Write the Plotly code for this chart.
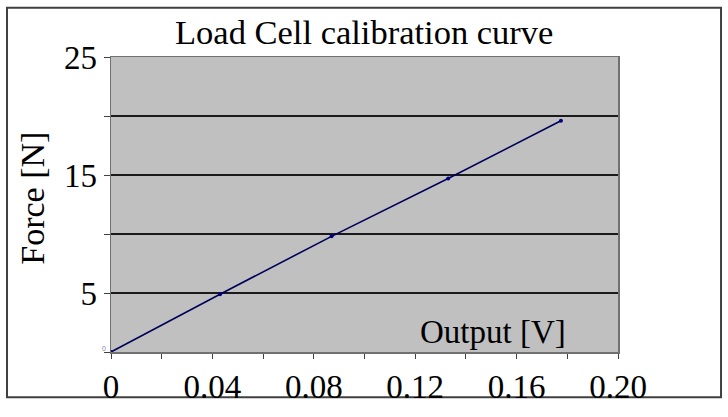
import plotly.graph_objects as go

# Data
output_v = [0.0, 0.043, 0.087, 0.133, 0.1775]
force_n = [0.0, 4.9, 9.8, 14.7, 19.6]

x_tickvals = [0.0, 0.02, 0.04, 0.06, 0.08, 0.10, 0.12, 0.14, 0.16, 0.18, 0.20]
x_ticktext = ["0", "", "0.04", "", "0.08", "", "0.12", "", "0.16", "", "0.20"]
y_tickvals = [0, 5, 10, 15, 20, 25]
y_ticktext = ["", "5", "", "15", "", "25"]

title_text = "Load Cell calibration curve"
x_title = "Output [V]"
y_title = "Force [N]"

FONT = "Liberation Serif, Times New Roman, serif"

fig = go.Figure()
fig.add_trace(go.Scatter(
    x=output_v, y=force_n, mode="lines+markers",
    line=dict(color="#00005a", width=1.6),
    marker=dict(color="#000080", size=4),
    showlegend=False,
))

fig.update_layout(
    width=728, height=417, autosize=False,
    margin=dict(l=111, r=110, t=57, b=54),
    paper_bgcolor="white",
    plot_bgcolor="#C0C0C0",
    font=dict(family=FONT, size=33, color="black"),
    xaxis=dict(
        range=[0, 0.20], tickvals=x_tickvals, ticktext=x_ticktext,
        showgrid=False, zeroline=False,
        ticks="outside", ticklen=5, tickcolor="#404040", tickwidth=1,
        showline=True, linecolor="#707070", linewidth=1.5, mirror=True,
        tickfont=dict(family=FONT, size=33, color="black"),
    ),
    yaxis=dict(
        range=[0, 25], tickvals=y_tickvals, ticktext=y_ticktext,
        showgrid=True, gridcolor="#1a1a1a", gridwidth=1.5,
        zeroline=False,
        ticks="outside", ticklen=6, tickcolor="#404040", tickwidth=1,
        showline=True, linecolor="#707070", linewidth=1.5, mirror=True,
        tickfont=dict(family=FONT, size=33, color="black"),
    ),
    shapes=[dict(
        type="rect", xref="paper", yref="paper",
        x0=-0.2051, x1=1.2032, y0=-0.1536, y1=1.1667,
        line=dict(color="#404040", width=2), fillcolor="rgba(0,0,0,0)",
        layer="below",
    )],
    annotations=[
        dict(text=title_text, xref="paper", yref="paper",
             x=(364 - 111) / 507, y=(363 - 31) / 306,
             showarrow=False, xanchor="center", yanchor="middle",
             font=dict(family=FONT, size=34.5, color="black")),
        dict(text=x_title, x=0.1505, y=1.7, xref="x", yref="y",
             showarrow=False, xanchor="center", yanchor="middle",
             font=dict(family=FONT, size=33, color="black")),
        dict(text=y_title, xref="paper", yref="paper",
             x=(33 - 111) / 507, y=(363 - 204) / 306,
             showarrow=False, textangle=-90, xanchor="center", yanchor="middle",
             font=dict(family=FONT, size=34, color="black")),
        dict(text="0", xref="paper", yref="y",
             x=(104 - 111) / 507, y=0.3,
             showarrow=False, xanchor="center", yanchor="middle",
             font=dict(family="Arial, sans-serif", size=7, color="#8080a0")),
    ],
)

fig.write_html(
    "out.html",
    config={"responsive": False, "displayModeBar": False, "staticPlot": True},
    post_script="document.body.style.margin='0';document.documentElement.style.overflow='hidden';document.body.style.overflow='hidden';",
)
